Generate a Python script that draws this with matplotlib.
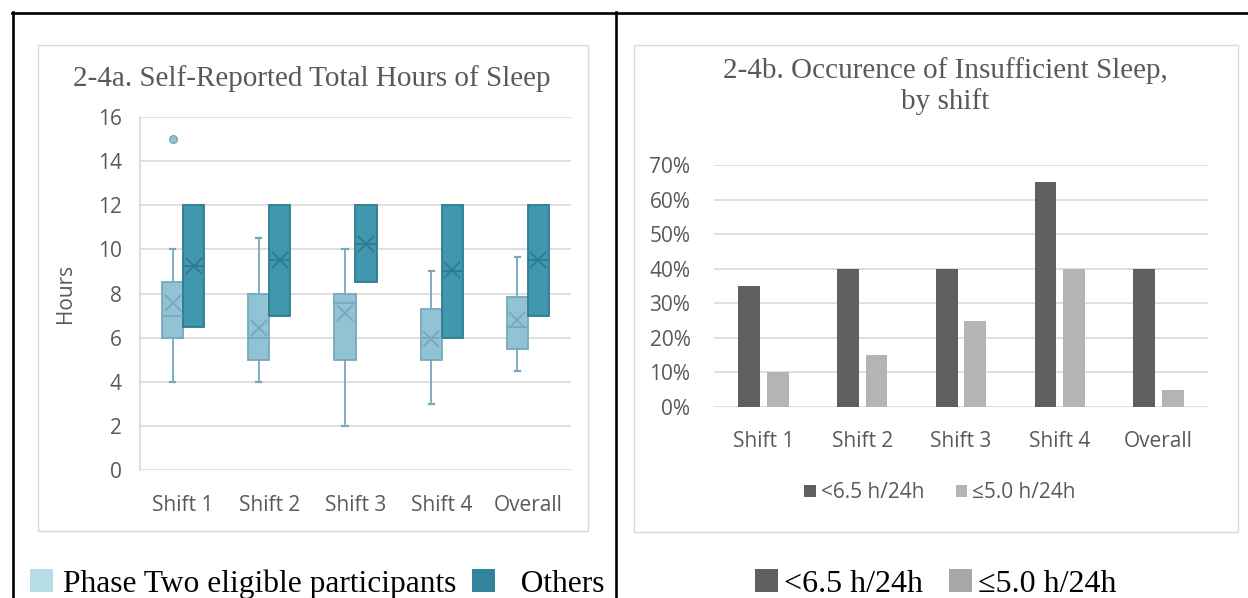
import matplotlib
matplotlib.use("Agg")
import matplotlib.pyplot as plt
from matplotlib.patches import Rectangle, Patch
from matplotlib.lines import Line2D

# ---------------------------
# Data
# ---------------------------
shifts = ["Shift 1", "Shift 2", "Shift 3", "Shift 4", "Overall"]

# Phase Two eligible participants (box stats, hours)
p2_q1 = [6.0, 5.0, 5.0, 5.0, 5.5]
p2_med = [7.0, 6.0, 7.55, 6.0, 6.5]
p2_q3 = [8.5, 8.0, 8.0, 7.3, 7.85]
p2_lo = [4.0, 4.0, 2.0, 3.0, 4.5]
p2_hi = [10.0, 10.5, 10.0, 9.0, 9.65]
p2_mean = [7.55, 6.45, 7.1, 5.95, 6.8]
p2_fliers = [[15.0], [], [], [], []]

# Others (box stats, hours)
oth_q1 = [6.5, 7.0, 8.5, 6.0, 7.0]
oth_med = [9.25, 9.5, 10.25, 9.0, 9.5]
oth_q3 = [12.0, 12.0, 12.0, 12.0, 12.0]
oth_mean = [9.25, 9.5, 10.25, 9.05, 9.5]

# Share of participants with insufficient sleep
under_65 = [0.35, 0.40, 0.40, 0.65, 0.40]
under_50 = [0.10, 0.15, 0.25, 0.40, 0.05]

# ---------------------------
# Styling
# ---------------------------
W, H = 1248, 598
grey_txt = "#595959"
grid_col = "#d9d9d9"
light_fill, light_edge = "#92c3d4", "#76a9bb"
dark_fill, dark_edge = "#4197ae", "#2d7c91"
bar_dark, bar_light = "#5f5f5f", "#b4b4b4"
sans = ["Open Sans", "DejaVu Sans"]
serif = ["Liberation Serif", "DejaVu Serif"]
tick_fs = 15


def px_box(x0, y0, x1, y1):
    # pixel box (top-left origin) -> figure fraction [l, b, w, h]
    return [x0 / W, 1 - y1 / H, (x1 - x0) / W, (y1 - y0) / H]


fig = plt.figure(figsize=(W / 100, H / 100), dpi=100)
fig.patch.set_facecolor("white")

# table borders
for xs, ys in [([12, W], [12.5, 12.5]), ([12.5, 12.5], [12, H]), ([615.5, 615.5], [12, H])]:
    fig.add_artist(Line2D([x / W for x in xs], [1 - y / H for y in ys], color="black", lw=1.9))

# chart frames
for x0, y0, x1, y1 in [(37.5, 44.5, 587.5, 530.5), (633.5, 44.5, 1237.5, 531.5)]:
    l, b, w, h = px_box(x0, y0, x1, y1)
    fig.add_artist(Rectangle((l, b), w, h, transform=fig.transFigure, fill=False,
                             edgecolor=grid_col, lw=1.0))

# ---------------------------
# Chart a: box plots
# ---------------------------
ax1 = fig.add_axes(px_box(140, 117, 571, 470))
off, bw = 0.122, 0.245

p2_stats = []
oth_stats = []
for i in range(len(shifts)):
    p2_stats.append(dict(q1=p2_q1[i], med=p2_med[i], q3=p2_q3[i], whislo=p2_lo[i],
                         whishi=p2_hi[i], mean=p2_mean[i], fliers=p2_fliers[i]))
    oth_stats.append(dict(q1=oth_q1[i], med=oth_med[i], q3=oth_q3[i], whislo=oth_q1[i],
                          whishi=oth_q3[i], mean=oth_mean[i], fliers=[]))

pos = list(range(len(shifts)))
ax1.bxp(p2_stats, positions=[p - off for p in pos], widths=bw, patch_artist=True,
        showmeans=True, capwidths=0.06,
        boxprops=dict(facecolor=light_fill, edgecolor=light_edge, lw=1.3),
        medianprops=dict(color=light_edge, lw=1.3),
        whiskerprops=dict(color=light_edge, lw=1.3),
        capprops=dict(color=light_edge, lw=1.6),
        meanprops=dict(marker="x", markersize=12, markeredgecolor=light_edge, markeredgewidth=1.3),
        flierprops=dict(marker="o", markersize=5.5, markerfacecolor=light_fill,
                        markeredgecolor=light_edge, markeredgewidth=1.0))
ax1.bxp(oth_stats, positions=[p + off for p in pos], widths=bw, patch_artist=True,
        showmeans=True, showcaps=False,
        boxprops=dict(facecolor=dark_fill, edgecolor=dark_edge, lw=1.3),
        medianprops=dict(color=dark_edge, lw=1.3),
        whiskerprops=dict(color=dark_edge, lw=1.3),
        meanprops=dict(marker="x", markersize=12, markeredgecolor=dark_edge, markeredgewidth=1.3))

ax1.set_xlim(-0.5, len(shifts) - 0.5)
ax1.set_ylim(0, 16)
ax1.set_yticks(range(0, 17, 2))
ax1.set_xticks(pos)
ax1.set_xticklabels(shifts)
ax1.set_ylabel("Hours", color=grey_txt, fontsize=tick_fs, family=sans)
ax1.yaxis.set_label_coords((76 - 140) / 431, 0.5)
ax1.yaxis.grid(True, color=grid_col, lw=1.2)
ax1.set_axisbelow(True)
for s in ["top", "right", "bottom"]:
    ax1.spines[s].set_visible(False)
ax1.spines["left"].set_color(grid_col)
ax1.spines["left"].set_linewidth(1.2)
ax1.tick_params(length=0, labelcolor=grey_txt, labelsize=tick_fs, pad=13)
ax1.tick_params(axis="x", pad=18)
for lab in ax1.get_xticklabels() + ax1.get_yticklabels():
    lab.set_family(sans)
fig.text(312 / W, 1 - 79 / H, "2-4a. Self-Reported Total Hours of Sleep", family=serif,
         fontsize=21, color=grey_txt, ha="center", va="center")

# ---------------------------
# Chart b: grouped bars
# ---------------------------
ax2 = fig.add_axes(px_box(714, 165, 1208, 407))
boff, bbw = 0.145, 0.22
ax2.bar([p - boff for p in pos], under_65, width=bbw, color=bar_dark, label="<6.5 h/24h", zorder=3)
ax2.bar([p + boff for p in pos], under_50, width=bbw, color=bar_light, label="≤5.0 h/24h", zorder=3)
ax2.set_xlim(-0.5, len(shifts) - 0.5)
ax2.set_ylim(0, 0.7)
ax2.set_yticks([i / 10 for i in range(8)])
ax2.set_yticklabels([f"{i * 10}%" for i in range(8)])
ax2.set_xticks(pos)
ax2.set_xticklabels(shifts)
ax2.yaxis.grid(True, color=grid_col, lw=1.2)
for s in ["top", "right", "left", "bottom"]:
    ax2.spines[s].set_visible(False)
ax2.tick_params(length=0, labelcolor=grey_txt, labelsize=tick_fs, pad=17)
ax2.tick_params(axis="x", pad=17)
for lab in ax2.get_xticklabels() + ax2.get_yticklabels():
    lab.set_family(sans)
fig.text(945 / W, 1 - 86 / H, "2-4b. Occurence of Insufficient Sleep,\nby shift", family=serif,
         fontsize=21, color=grey_txt, ha="center", va="center", linespacing=1.2)

ax2.legend(loc="center", bbox_to_anchor=((940 - 714) / 494, -0.355), ncol=2, frameon=False,
           prop={"family": sans, "size": tick_fs}, labelcolor=grey_txt,
           handlelength=0.55, handleheight=0.55, handletextpad=0.25, columnspacing=1.5)

# ---------------------------
# Legends under the charts
# ---------------------------
fig.legend(
    handles=[Patch(facecolor="#b6dce6", edgecolor="none"), Patch(facecolor="#31849b", edgecolor="none")],
    labels=["Phase Two eligible participants", "  Others"],
    loc="center left", bbox_to_anchor=(30 / W, 1 - 584 / H), ncol=2, frameon=False,
    borderpad=0, borderaxespad=0,
    prop={"family": serif, "size": 22.7}, handlelength=0.74, handleheight=0.74,
    handletextpad=0.3, columnspacing=0.5)
fig.legend(
    handles=[Patch(facecolor=bar_dark, edgecolor="none"), Patch(facecolor="#a8a8a8", edgecolor="none")],
    labels=["<6.5 h/24h", "≤5.0 h/24h"],
    loc="center", bbox_to_anchor=(936 / W, 1 - 584 / H), ncol=2, frameon=False,
    borderpad=0, borderaxespad=0,
    prop={"family": serif, "size": 23}, handlelength=0.72, handleheight=0.72,
    handletextpad=0.2, columnspacing=0.8)

fig.savefig("out.png", dpi=100, facecolor="white")
